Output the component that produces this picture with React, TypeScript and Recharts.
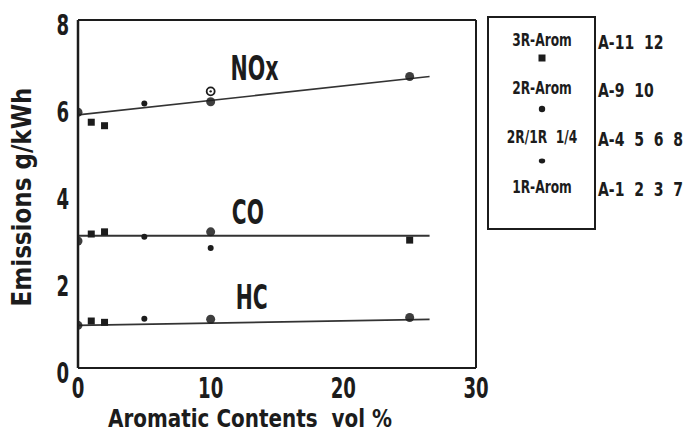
import React from "react";
import {
  ComposedChart,
  Line,
  Scatter,
  XAxis,
  YAxis,
  ReferenceLine,
  ReferenceDot,
  Label,
} from "recharts";

// aromatic content (vol %) for each measured point
const noxX = [0, 1, 2, 5, 10, 10, 25];
const noxY = [5.88, 5.65, 5.57, 6.08, 6.12, 6.36, 6.7];
const noxMark = ["circle", "square", "square", "dot", "circle", "ring", "circle"];

const coX = [0, 1, 2, 5, 10, 10, 25];
const coY = [2.92, 3.08, 3.13, 3.02, 3.13, 2.76, 2.94];
const coMark = ["circle", "square", "square", "dot", "circle", "dot", "square"];

const hcX = [0, 1, 2, 5, 10, 25];
const hcY = [0.98, 1.08, 1.05, 1.13, 1.12, 1.16];
const hcMark = ["circle", "square", "square", "dot", "circle", "circle"];

// regression lines
const fitX = [0, 26.5];
const noxFit = [5.82, 6.7];
const coFit = [3.04, 3.04];
const hcFit = [0.98, 1.12];

const xTicks = [0, 10, 20, 30];
const yTicks = [0, 2, 4, 6, 8];

// where the series names sit
const seriesLabels = ["NOx", "CO", "HC"];
const seriesLabelX = [13.3, 12.8, 13.1];
const seriesLabelY = [6.9, 3.59, 1.63];

const legendNames = ["3R-Arom", "2R-Arom", "2R/1R  1/4", "1R-Arom"];
const legendFuels = ["A-11  12", "A-9  10", "A-4  5  6  8", "A-1  2  3  7"];

const INK = "#1c1c1c";
const FONT = '"Liberation Sans Narrow", "DejaVu Sans Condensed", sans-serif';

const toPoints = (xs: number[], ys: number[], marks?: string[]) =>
  xs.map((x, i) => ({ x, y: ys[i], mark: marks ? marks[i] : "" }));

const noxData = toPoints(noxX, noxY, noxMark);
const coData = toPoints(coX, coY, coMark);
const hcData = toPoints(hcX, hcY, hcMark);
const noxLine = toPoints(fitX, noxFit);
const coLine = toPoints(fitX, coFit);
const hcLine = toPoints(fitX, hcFit);

function Marker(props: any) {
  const { cx, cy } = props;
  const mark = props.payload?.mark ?? props.mark;
  if (cx == null || cy == null) return null;
  switch (mark) {
    case "square":
      return <rect x={cx - 3.5} y={cy - 3.5} width={7} height={7} fill={INK} />;
    case "dot":
      return <circle cx={cx} cy={cy} r={3} fill={INK} />;
    case "ring":
      return (
        <g>
          <circle cx={cx} cy={cy} r={4} fill="#fff" stroke={INK} strokeWidth={1.8} />
          <circle cx={cx} cy={cy} r={1.2} fill={INK} />
        </g>
      );
    default:
      return <circle cx={cx} cy={cy} r={4.5} fill={INK} fillOpacity={0.85} />;
  }
}

// squeezed bold text, the scan uses a tall narrow face
function Narrow({ x, y, anchor = "middle", size, sx = 0.75, children }: any) {
  return (
    <text
      transform={`translate(${x} ${y}) scale(${sx} 1)`}
      textAnchor={anchor}
      fontFamily={FONT}
      fontWeight="bold"
      fontSize={size}
      fill={INK}
      style={{ whiteSpace: "pre" }}
    >
      {children}
    </text>
  );
}

const YTick = ({ x, y, payload }: any) => (
  <Narrow x={x - 1} y={y + 15} anchor="end" size={28} sx={0.72}>
    {payload.value}
  </Narrow>
);

const XTick = ({ x, y, payload }: any) => (
  <Narrow x={x} y={y + 22} size={28} sx={0.72}>
    {payload.value}
  </Narrow>
);

function Legend() {
  const rowY = [40, 88, 137, 187];
  const markY = [58, 109, 161];
  return (
    <svg
      width={690}
      height={440}
      style={{ position: "absolute", left: 0, top: 0, pointerEvents: "none" }}
    >
      <rect x={488} y={17} width={107} height={212} fill="none" stroke={INK} strokeWidth={2} />
      {legendNames.map((name, i) => (
        <Narrow key={name} x={542} y={rowY[i] + 6} size={17} sx={0.8}>
          {name}
        </Narrow>
      ))}
      <rect x={538.5} y={markY[0] - 3.5} width={7} height={7} fill={INK} />
      <circle cx={542} cy={markY[1]} r={3.2} fill={INK} />
      <ellipse cx={542} cy={markY[2]} rx={3.2} ry={2.4} fill={INK} />
      {legendFuels.map((f, i) => (
        <Narrow key={f} x={598} y={rowY[i] + 9} anchor="start" size={20} sx={0.78}>
          {f}
        </Narrow>
      ))}
    </svg>
  );
}

export default function App() {
  return (
    <div
      style={{
        position: "absolute",
        left: 0,
        top: 0,
        width: 690,
        height: 440,
        background: "#fff",
      }}
    >
      <ComposedChart
        width={690}
        height={440}
        margin={{ top: 20, right: 214, bottom: 42, left: 18 }}
      >
        <XAxis
          dataKey="x"
          type="number"
          domain={[0, 30]}
          ticks={xTicks}
          allowDataOverflow
          tickLine={false}
          axisLine={{ stroke: INK, strokeWidth: 2 }}
          tick={<XTick />}
          height={30}
        >
          <Label
            content={() => (
              <text
                x={250}
                y={427}
                textAnchor="middle"
                fontFamily={FONT}
                fontWeight="bold"
                fontSize={25}
                fill={INK}
                textLength={284}
                lengthAdjust="spacingAndGlyphs"
                style={{ whiteSpace: "pre" }}
              >
                {"Aromatic Contents  vol %"}
              </text>
            )}
          />
        </XAxis>
        <YAxis
          dataKey="y"
          type="number"
          domain={[0, 8]}
          ticks={yTicks}
          allowDataOverflow
          tickLine={false}
          axisLine={{ stroke: INK, strokeWidth: 2.5 }}
          tick={<YTick />}
          width={60}
        >
          <Label
            content={() => (
              <text
                x={22}
                y={197}
                transform="rotate(-90 22 197)"
                dy={9}
                textAnchor="middle"
                fontFamily={FONT}
                fontWeight="bold"
                fontSize={26}
                fill={INK}
                textLength={219}
                lengthAdjust="spacingAndGlyphs"
              >
                Emissions g/kWh
              </text>
            )}
          />
        </YAxis>
        <ReferenceLine y={8} stroke={INK} strokeWidth={2} />
        <ReferenceLine x={30} stroke={INK} strokeWidth={2} />

        <Line data={noxLine} dataKey="y" type="linear" stroke="#333" strokeWidth={1.6} dot={false} isAnimationActive={false} />
        <Line data={coLine} dataKey="y" type="linear" stroke="#333" strokeWidth={1.8} dot={false} isAnimationActive={false} />
        <Line data={hcLine} dataKey="y" type="linear" stroke="#333" strokeWidth={1.8} dot={false} isAnimationActive={false} />

        <Scatter data={noxData} dataKey="y" shape={<Marker />} isAnimationActive={false} />
        <Scatter data={coData} dataKey="y" shape={<Marker />} isAnimationActive={false} />
        <Scatter data={hcData} dataKey="y" shape={<Marker />} isAnimationActive={false} />

        {seriesLabels.map((name, i) => (
          <ReferenceDot
            key={name}
            x={seriesLabelX[i]}
            y={seriesLabelY[i]}
            r={0}
            shape={(p: any) => (
              <text
                x={p.cx}
                y={p.cy + 12}
                textAnchor="middle"
                fontFamily={FONT}
                fontWeight="bold"
                fontSize={33}
                fill={INK}
                textLength={name.length === 3 ? 48 : 32}
                lengthAdjust="spacingAndGlyphs"
              >
                {name}
              </text>
            )}
          />
        ))}
      </ComposedChart>
      <Legend />
    </div>
  );
}
